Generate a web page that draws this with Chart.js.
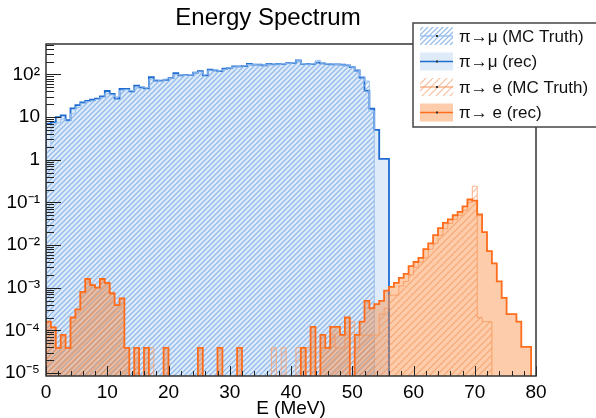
<!DOCTYPE html>
<html>
<head>
<meta charset="utf-8">
<script src="https://cdn.jsdelivr.net/npm/chart.js@4.4.0/dist/chart.umd.min.js"></script>
<style>
html, body { margin: 0; padding: 0; background: #fff; }
#wrap { width: 596px; height: 418px; }
</style>
</head>
<body>
<div id="wrap"><canvas id="spectrum-Chart"></canvas></div>
<script>
// 100 bins of 0.8 MeV from 0 to 80 MeV
var binWidth = 0.8;
var xTicks = [0, 10, 20, 30, 40, 50, 60, 70, 80];
var yTicks = [1e-5, 1e-4, 1e-3, 1e-2, 1e-1, 1, 10, 100];
var yTickLabels = ['10\u207B\u2075', '10\u207B\u2074', '10\u207B\u00B3', '10\u207B\u00B2', '10\u207B\u00B9', '1', '10', '10\u00B2'];
var legendLabels = ['\u03C0\u2192\u03BC (MC Truth)', '\u03C0\u2192\u03BC (rec)', '\u03C0\u2192 e (MC Truth)', '\u03C0\u2192 e (rec)'];

// pi -> mu
var muTruth = [
  2, 6.5, 7.5, 9, 8, 12, 17, 21, 23, 24,
  26, 29, 36, 33, 30, 42, 44, 42, 50, 52,
  49, 78, 75, 70, 78, 80, 100, 98, 95, 100,
  112, 115, 100, 125, 128, 122, 132, 145, 150, 156,
  160, 172, 172, 168, 166, 175, 175, 176, 180, 182,
  186, 215, 180, 176, 180, 215, 185, 180, 175, 170,
  168, 165, 150, 128, 90, 70, 14, 0, 0, 0,
  0, 0, 0, 0, 0, 0, 0, 0, 0, 0,
  0, 0, 0, 0, 0, 0, 0, 0, 0, 0,
  0, 0, 0, 0, 0, 0, 0, 0, 0, 0
];
var muRec = [
  7, 7.5, 10, 11, 8.5, 16, 19, 22, 24, 25.5,
  27, 30.5, 41, 35, 27, 46, 46, 40, 55, 50,
  47, 86, 72, 72, 75, 82, 107, 95, 97, 98,
  110, 120, 95, 129, 125, 120, 136, 143, 154, 154,
  158, 178, 170, 170, 163, 178, 172, 178, 178, 184,
  184, 213, 178, 178, 178, 190, 182, 178, 172, 172,
  170, 163, 148, 124, 84, 42, 15.7, 5, 1.05, 1.05,
  0, 0, 0, 0, 0, 0, 0, 0, 0, 0,
  0, 0, 0, 0, 0, 0, 0, 0, 0, 0,
  0, 0, 0, 0, 0, 0, 0, 0, 0, 0
];

// pi -> e
var eTruth = [
  1.5e-4, 1.2e-4, 3.9e-5, 7.8e-5, 3.9e-5, 1.6e-4, 3.1e-4, 7.5e-4, 1.5e-3, 1.2e-3,
  1.0e-3, 1.5e-3, 1.25e-3, 7e-4, 4e-4, 5.5e-4, 3.9e-5, 0, 3.9e-5, 0,
  0, 3.9e-5, 0, 0, 0, 0, 0, 0, 0, 0,
  0, 0, 0, 0, 0, 0, 0, 0, 0, 0,
  0, 0, 0, 0, 0, 0, 3.9e-5, 0, 3.9e-5, 0,
  0, 3.9e-5, 0, 3.9e-5, 0, 3.9e-5, 3.9e-5, 3.9e-5, 7.8e-5, 3.9e-5,
  3.9e-5, 7.8e-5, 1.6e-4, 3.9e-5, 7.8e-5, 7.8e-5, 7.8e-5, 7.8e-5, 2.4e-4, 3.3e-4,
  6.7e-4, 6.7e-4, 1.1e-3, 1.4e-3, 2e-3, 3e-3, 4e-3, 5e-3, 8e-3, 1.1e-2,
  1.7e-2, 2.4e-2, 3.2e-2, 4e-2, 5e-2, 6.5e-2, 1.0e-1, 2.4e-1, 2e-4, 1.6e-4,
  1.6e-4, 0, 0, 0, 0, 0, 0, 0, 0, 0
];
var eRec = [
  1.6e-4, 1.17e-4, 3.9e-5, 7.8e-5, 3.9e-5, 2e-4, 3.1e-4, 8e-4, 1.6e-3, 1.15e-3,
  1.0e-3, 1.6e-3, 1.3e-3, 7.4e-4, 3.9e-4, 5.6e-4, 3.9e-5, 0, 3.9e-5, 0,
  3.9e-5, 0, 0, 0, 3.9e-5, 0, 0, 0, 0, 0,
  0, 3.9e-5, 0, 0, 0, 3.9e-5, 0, 0, 0, 3.9e-5,
  0, 0, 0, 0, 0, 0, 0, 0, 0, 0,
  0, 0, 3.9e-5, 0, 1.2e-4, 0, 7.8e-5, 3.9e-5, 1.2e-4, 1.2e-4,
  7.8e-5, 2e-4, 0, 7.8e-5, 1.6e-4, 4.9e-4, 3.3e-4, 4.1e-4, 4.9e-4, 8.5e-4,
  1.05e-3, 1.3e-3, 1.7e-3, 2.1e-3, 3.2e-3, 4e-3, 5e-3, 8e-3, 1.1e-2, 1.7e-2,
  2.5e-2, 3.3e-2, 4e-2, 5e-2, 6e-2, 8.1e-2, 1.17e-1, 1.1e-1, 5.2e-2, 2e-2,
  7.2e-3, 3.7e-3, 1.4e-3, 5.8e-4, 2.4e-4, 2.4e-4, 1.6e-4, 4.1e-5, 4.1e-5, 0
];

var EMPTY = 1e-7; // empty bins drawn below the axis floor

function histoPoints(values) {
  var pts = [{x: 0, y: EMPTY}];
  for (var i = 0; i < values.length; i++) {
    pts.push({x: i * binWidth, y: values[i] > 0 ? values[i] : EMPTY});
  }
  pts.push({x: values.length * binWidth, y: EMPTY});
  return pts;
}

function hatch(color, gap, width) {
  var c = document.createElement('canvas');
  c.width = gap; c.height = gap;
  var g = c.getContext('2d');
  g.strokeStyle = color;
  g.lineWidth = width;
  g.beginPath();
  g.moveTo(-1, gap + 1); g.lineTo(gap + 1, -1);
  g.moveTo(-1, 1); g.lineTo(1, -1);
  g.moveTo(gap - 1, gap + 1); g.lineTo(gap + 1, gap - 1);
  g.stroke();
  return g.createPattern(c, 'repeat');
}

var FONT = "'Liberation Sans', Arial, Helvetica, sans-serif";
var blueLine = 'rgb(30,108,210)';
var blueFill = 'rgb(224,235,250)';
var blueHatch = hatch('rgba(120,170,230,0.75)', 5, 1.3);
var blueTruthLine = 'rgba(150,190,238,0.9)';
var orangeLine = 'rgb(255,108,28)';
var orangeFill = 'rgba(249,133,55,0.42)';
var orangeHatch = hatch('rgba(240,140,80,0.55)', 7, 1.2);
var orangeTruthLine = 'rgba(250,160,110,0.8)';

function histo(label, values, line, width, fill, order) {
  return {
    label: label,
    data: histoPoints(values),
    borderColor: line,
    borderWidth: width,
    backgroundColor: fill,
    fill: 'start',
    stepped: 'before',
    pointRadius: 0,
    tension: 0,
    clip: 0,
    order: order
  };
}

// frame, inward ticks (ROOT style) and the legend box
var framePlugin = {
  id: 'frame',
  afterDraw: function (chart) {
    var ctx = chart.ctx, a = chart.chartArea;
    var xs = chart.scales.x, ys = chart.scales.y;
    ctx.save();
    ctx.strokeStyle = '#222';
    ctx.lineWidth = 1;
    ctx.beginPath();
    for (var d = -5; d <= 2; d++) {
      for (var m = 1; m <= 9; m++) {
        var v = m * Math.pow(10, d);
        if (v < ys.min || v > ys.max) continue;
        var py = Math.round(ys.getPixelForValue(v)) + 0.5;
        ctx.moveTo(a.left, py);
        ctx.lineTo(a.left + (m === 1 ? 15 : 8), py);
      }
    }
    for (var e = 0; e <= 80; e += 2) {
      var px = Math.round(xs.getPixelForValue(e)) + 0.5;
      ctx.moveTo(px, a.bottom);
      ctx.lineTo(px, a.bottom - (e % 10 === 0 ? 10 : 5));
    }
    ctx.stroke();
    ctx.lineWidth = 1.5;
    ctx.strokeStyle = '#333';
    ctx.strokeRect(a.left, a.top, a.right - a.left, a.bottom - a.top);

    // legend
    var lx = 413, ly = 23, lw = 200, lh = 104;
    ctx.fillStyle = '#fff';
    ctx.fillRect(lx, ly, lw, lh);
    ctx.strokeStyle = '#444';
    ctx.lineWidth = 1.5;
    ctx.strokeRect(lx, ly, lw, lh);
    var styles = [
      {fill: blueHatch, line: blueTruthLine},
      {fill: blueFill, line: blueLine},
      {fill: orangeHatch, line: orangeTruthLine},
      {fill: orangeFill, line: orangeLine}
    ];
    for (var i = 0; i < 4; i++) {
      var cy = 36 + i * 25.5;
      ctx.fillStyle = styles[i].fill;
      ctx.fillRect(420, cy - 9, 33, 18);
      ctx.strokeStyle = styles[i].line;
      ctx.lineWidth = 1.5;
      ctx.beginPath();
      ctx.moveTo(420, cy); ctx.lineTo(453, cy);
      ctx.stroke();
      ctx.fillStyle = '#333';
      ctx.fillRect(436, cy - 1, 2, 2);
      ctx.fillStyle = '#111';
      ctx.font = '17px ' + FONT;
      ctx.textBaseline = 'middle';
      ctx.textAlign = 'left';
      ctx.fillText(legendLabels[i], 459, cy + 1);
    }
    ctx.restore();
  }
};

var ctx = document.getElementById('spectrum-Chart');
var chart = new Chart(ctx, {
  type: 'line',
  data: {
    datasets: [
      histo(legendLabels[3], eRec, orangeLine, 1.8, orangeFill, 0),
      histo(legendLabels[2], eTruth, orangeTruthLine, 1, orangeHatch, 1),
      histo(legendLabels[0], muTruth, blueTruthLine, 1, blueHatch, 2),
      histo(legendLabels[1], muRec, blueLine, 1.8, blueFill, 3)
    ]
  },
  options: {
    responsive: true,
    maintainAspectRatio: false,
    animation: false,
    events: [],
    layout: { padding: { top: 0, right: 60, bottom: 0, left: 0 } },
    plugins: {
      legend: { display: false },
      tooltip: { enabled: false },
      title: {
        display: true,
        text: 'Energy Spectrum',
        color: '#000',
        font: { family: FONT, size: 24, weight: 'normal', lineHeight: 1 },
        padding: { top: 6, bottom: 14 }
      }
    },
    scales: {
      x: {
        type: 'linear',
        min: 0,
        max: 80,
        afterFit: function (scale) { scale.height = 42; },
        afterBuildTicks: function (scale) {
          scale.ticks = xTicks.map(function (v) { return {value: v}; });
        },
        grid: { display: false, drawTicks: false },
        border: { display: false },
        ticks: {
          color: '#000',
          padding: 5,
          maxRotation: 0,
          autoSkip: false,
          font: { family: FONT, size: 19 },
          callback: function (v) { return String(v); }
        },
        title: {
          display: true,
          text: 'E (MeV)',
          color: '#000',
          font: { family: FONT, size: 19, lineHeight: 1 },
          padding: { top: 0, bottom: 0 }
        }
      },
      y: {
        type: 'logarithmic',
        min: 8.5e-6,
        max: 518,
        afterFit: function (scale) { scale.width = 46; },
        afterBuildTicks: function (scale) {
          scale.ticks = yTicks.map(function (v) { return {value: v}; });
        },
        grid: { display: false, drawTicks: false },
        border: { display: false },
        ticks: {
          color: '#000',
          padding: 6,
          autoSkip: false,
          font: { family: FONT, size: 19 },
          callback: function (v, i) { return yTickLabels[i]; }
        }
      }
    }
  },
  plugins: [framePlugin]
});
</script>
</body>
</html>
